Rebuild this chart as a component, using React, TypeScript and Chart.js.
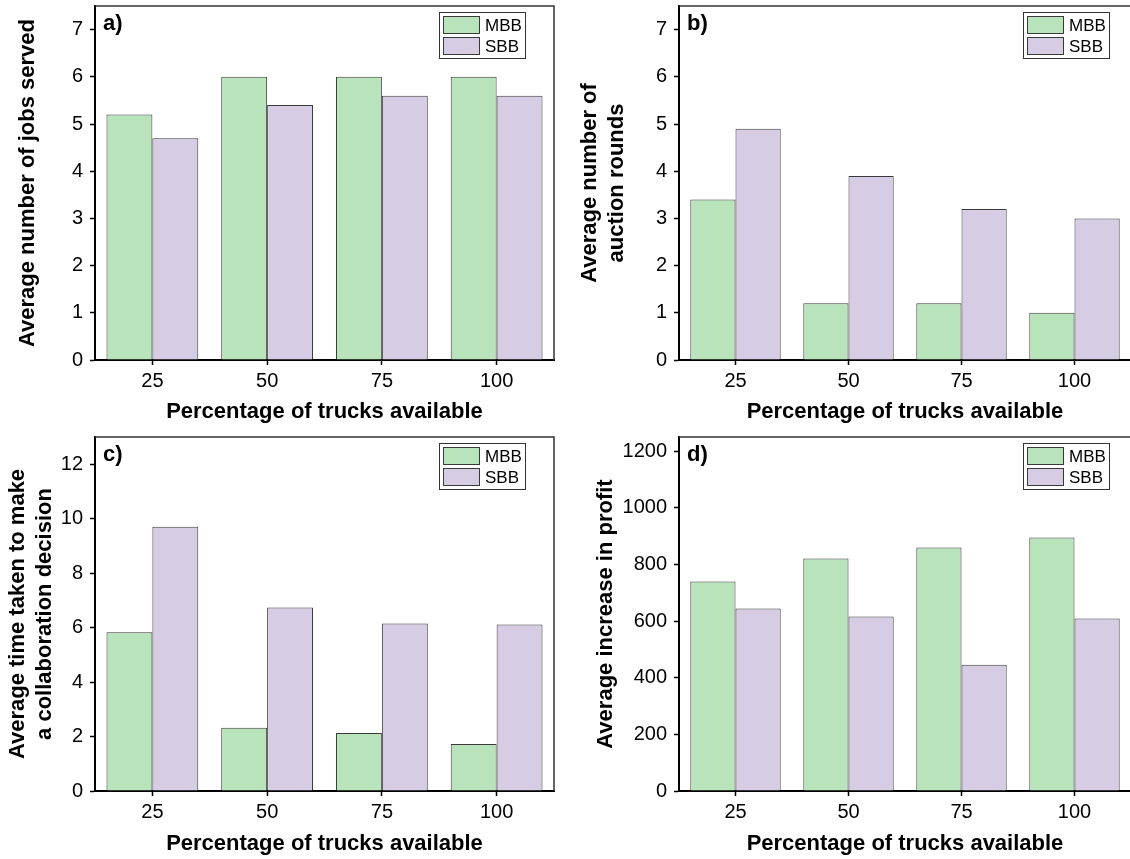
import React, { useEffect, useRef } from 'react';
import { Chart, registerables } from 'chart.js';
Chart.register(...registerables);

const FONT = "'Liberation Sans', Arial, Helvetica, sans-serif";

const CATEGORIES = ['25', '50', '75', '100'];
const SERIES_LABELS = ['MBB', 'SBB'];
const SERIES_COLORS = ['#b9e3bb', '#d6cde4'];
const BAR_BORDER = '#3a3a3a';
const X_TITLE = 'Percentage of trucks available';

const JOBS_MBB = [5.2, 6.0, 6.0, 6.0];
const JOBS_SBB = [4.7, 5.4, 5.6, 5.6];
const ROUNDS_MBB = [3.4, 1.2, 1.2, 1.0];
const ROUNDS_SBB = [4.9, 3.9, 3.2, 3.0];
const TIME_MBB = [5.83, 2.32, 2.13, 1.73];
const TIME_SBB = [9.7, 6.74, 6.15, 6.11];
const PROFIT_MBB = [740, 821, 860, 895];
const PROFIT_SBB = [644, 616, 446, 609];

const TICKS_JOBS = [0, 1, 2, 3, 4, 5, 6, 7];
const TICKS_ROUNDS = [0, 1, 2, 3, 4, 5, 6, 7];
const TICKS_TIME = [0, 2, 4, 6, 8, 10, 12];
const TICKS_PROFIT = [0, 200, 400, 600, 800, 1000, 1200];

const decorPlugin = {
  id: 'panelDecor',
  afterDraw(chart: any, _args: any, opts: any) {
    const { ctx, chartArea: ca } = chart;
    ctx.save();
    // top & right frame
    ctx.strokeStyle = '#333333';
    ctx.lineWidth = 1.5;
    ctx.beginPath();
    ctx.moveTo(ca.left, ca.top);
    ctx.lineTo(ca.right, ca.top);
    ctx.lineTo(ca.right, ca.bottom);
    ctx.stroke();
    // panel label
    ctx.fillStyle = '#000';
    ctx.font = `bold 22px ${FONT}`;
    ctx.textBaseline = 'top';
    ctx.textAlign = 'left';
    ctx.fillText(opts.label, ca.left + 8, ca.top + 7);
    // legend
    const w = 86;
    const h = 46;
    const x = Math.round(ca.right - opts.legendRight - w);
    const y = Math.round(ca.top + 6);
    ctx.fillStyle = '#fff';
    ctx.fillRect(x, y, w, h);
    ctx.lineWidth = 1;
    ctx.strokeStyle = '#333';
    ctx.strokeRect(x + 0.5, y + 0.5, w, h);
    chart.data.datasets.forEach((ds: any, i: number) => {
      const sy = y + 4 + i * 21;
      ctx.fillStyle = ds.backgroundColor;
      ctx.fillRect(x + 4, sy, 37, 18);
      ctx.strokeStyle = ds.borderColor;
      ctx.strokeRect(x + 4.5, sy + 0.5, 36, 17);
      ctx.fillStyle = '#000';
      ctx.font = `17px ${FONT}`;
      ctx.textBaseline = 'middle';
      ctx.fillText(ds.label, x + 46, sy + 10);
    });
    ctx.restore();
  },
};

type PanelProps = {
  left: number;
  top: number;
  width: number;
  height: number;
  padLeft: number;
  padTop: number;
  padRight: number;
  yWidth: number;
  xHeight: number;
  mbb: number[];
  sbb: number[];
  yMax: number;
  yTicks: number[];
  yTitle: string | string[];
  yTitlePad: number;
  xTitlePad: number;
  label: string;
  legendRight: number;
};

function Panel(p: PanelProps) {
  const ref = useRef<HTMLCanvasElement | null>(null);
  useEffect(() => {
    if (!ref.current) return;
    const chart = new Chart(ref.current, {
      type: 'bar',
      data: {
        labels: CATEGORIES,
        datasets: [
          {
            label: SERIES_LABELS[0],
            data: p.mbb,
            backgroundColor: SERIES_COLORS[0],
            borderColor: BAR_BORDER,
            borderWidth: 1,
            categoryPercentage: 0.8,
            barPercentage: 1.0,
          },
          {
            label: SERIES_LABELS[1],
            data: p.sbb,
            backgroundColor: SERIES_COLORS[1],
            borderColor: BAR_BORDER,
            borderWidth: 1,
            categoryPercentage: 0.8,
            barPercentage: 1.0,
          },
        ],
      },
      options: {
        responsive: false,
        animation: false,
        devicePixelRatio: 1,
        layout: { padding: { left: p.padLeft, top: p.padTop, right: p.padRight, bottom: 0 } },
        plugins: {
          legend: { display: false },
          tooltip: { enabled: false },
          panelDecor: { label: p.label, legendRight: p.legendRight },
        } as any,
        scales: {
          x: {
            type: 'category',
            offset: true,
            grid: {
              display: true,
              offset: false,
              drawOnChartArea: false,
              drawTicks: true,
              tickLength: 5,
              tickWidth: 1.5,
              tickColor: '#000',
            },
            border: { display: true, color: '#000', width: 2 },
            ticks: { color: '#000', font: { family: FONT, size: 20 }, padding: 4, maxRotation: 0 },
            title: {
              display: true,
              text: X_TITLE,
              color: '#000',
              font: { family: FONT, size: 22, weight: 'bold' },
              padding: { top: 0, bottom: p.xTitlePad },
            },
            afterFit: (s: any) => {
              s.height = p.xHeight;
              s.paddingLeft = 0;
              s.paddingRight = 0;
            },
          },
          y: {
            type: 'linear',
            min: 0,
            max: p.yMax,
            grid: {
              display: true,
              drawOnChartArea: false,
              drawTicks: true,
              tickLength: 5,
              tickWidth: 1.5,
              tickColor: '#000',
            },
            border: { display: true, color: '#000', width: 2 },
            ticks: {
              color: '#000',
              font: { family: FONT, size: 20 },
              padding: 7,
              callback: (v: any) => String(v),
            },
            afterBuildTicks: (s: any) => {
              s.ticks = p.yTicks.map((v) => ({ value: v }));
            },
            title: {
              display: true,
              text: p.yTitle,
              color: '#000',
              font: { family: FONT, size: 22, weight: 'bold', lineHeight: 1.2 },
              padding: { top: p.yTitlePad, bottom: 0 },
            },
            afterFit: (s: any) => {
              s.width = p.yWidth;
              s.paddingTop = 0;
              s.paddingBottom = 0;
            },
          },
        },
      },
      plugins: [decorPlugin as any],
    });
    return () => chart.destroy();
  }, []);
  return (
    <canvas
      ref={ref}
      width={p.width}
      height={p.height}
      style={{ position: 'absolute', left: p.left, top: p.top, width: p.width, height: p.height }}
    />
  );
}

export default function App() {
  return (
    <div
      style={{
        position: 'fixed',
        left: 0,
        top: 0,
        width: 1130,
        height: 859,
        overflow: 'hidden',
        background: '#fff',
      }}
    >
      <Panel
        left={0} top={0} width={565} height={430}
        padLeft={0} padTop={6} padRight={11} yWidth={95} xHeight={70}
        mbb={JOBS_MBB} sbb={JOBS_SBB} yMax={7.5} yTicks={TICKS_JOBS}
        yTitle="Average number of jobs served" yTitlePad={15} xTitlePad={5}
        label="a)" legendRight={29}
      />
      <Panel
        left={565} top={0} width={575} height={430}
        padLeft={0} padTop={6} padRight={9} yWidth={114} xHeight={70}
        mbb={ROUNDS_MBB} sbb={ROUNDS_SBB} yMax={7.5} yTicks={TICKS_ROUNDS}
        yTitle={['Average number of', 'auction rounds']} yTitlePad={12} xTitlePad={5}
        label="b)" legendRight={22}
      />
      <Panel
        left={0} top={430} width={565} height={429}
        padLeft={0} padTop={7} padRight={11} yWidth={95} xHeight={68}
        mbb={TIME_MBB} sbb={TIME_SBB} yMax={13} yTicks={TICKS_TIME}
        yTitle={['Average time taken to make', 'a collaboration decision']} yTitlePad={5} xTitlePad={2}
        label="c)" legendRight={29}
      />
      <Panel
        left={565} top={430} width={575} height={429}
        padLeft={0} padTop={7} padRight={9} yWidth={114} xHeight={68}
        mbb={PROFIT_MBB} sbb={PROFIT_SBB} yMax={1250} yTicks={TICKS_PROFIT}
        yTitle="Average increase in profit" yTitlePad={28} xTitlePad={2}
        label="d)" legendRight={22}
      />
    </div>
  );
}
